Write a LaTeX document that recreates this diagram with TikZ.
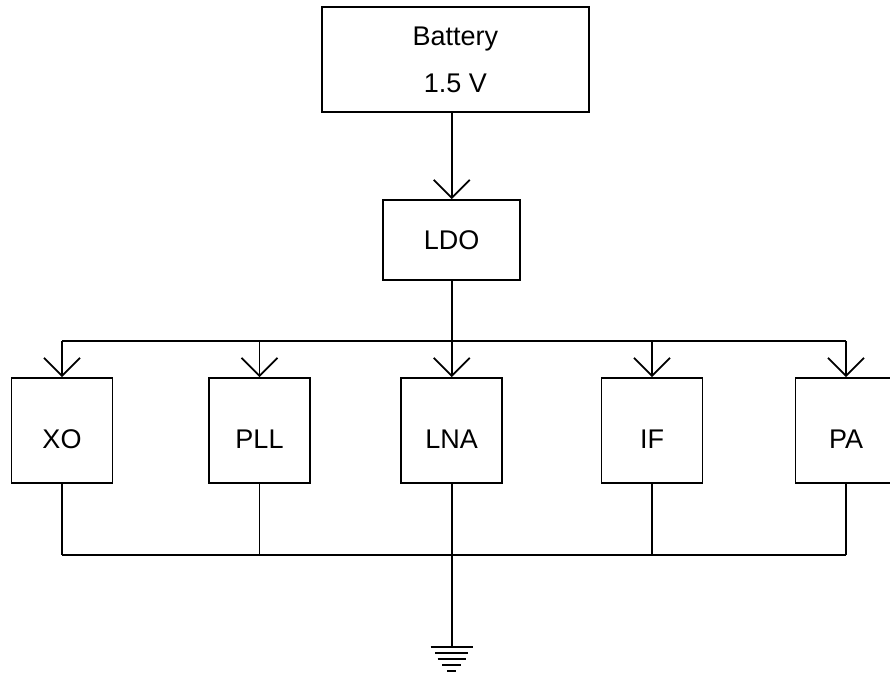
\documentclass[tikz,border=0pt]{standalone}
\usepackage{fontspec}
\setmainfont{Liberation Sans}
\usetikzlibrary{arrows.meta,positioning,calc}
\tikzset{
  fonte/.style={draw, line width=1.8pt, align=center, inner sep=0pt,
                font=\fontsize{27}{47}\selectfont},
  bloco/.style={draw, line width=1.8pt, inner sep=0pt, minimum width=101pt, minimum height=105pt,
                font=\fontsize{27}{32}\selectfont, text height=35pt, text depth=0pt},
  ligacao/.style={line width=1.8pt},
  seta/.style={-{Straight Barb[length=18pt,width=36pt]}, line width=1.8pt},
}
\begin{document}
\begin{tikzpicture}[x=1pt,y=-1pt]
  \useasboundingbox (0,0) rectangle (890,675);

  \node[fonte,minimum width=267pt,minimum height=105pt] (battery) at (455.3, 59.8) {Battery\\1.5 V};
  \node[fonte,minimum width=137pt,minimum height=80pt]  (ldo)     at (451.7, 240)  {LDO};

  \node[bloco] (xo)    at (62, 430.5)    {XO};
  \node[bloco] (pll)   at (259.5, 430.5) {PLL};
  \node[bloco] (lna)   at (451.7, 430.5) {LNA};
  \node[bloco] (ifamp) at (652, 430.5)   {IF};
  \node[bloco] (pa)    at (846, 430.5)   {PA};

  % supply rail and ground rail
  \coordinate (vdd)    at (451.7, 341);
  \coordinate (gndbus) at (451.7, 555);
  \coordinate (gnd)    at (451.7, 647);

  \draw[seta] (battery.south -| ldo.north) -- (ldo.north);
  \draw[ligacao] (ldo.south) -- (vdd);
  \draw[ligacao] (xo.north |- vdd) -- (pa.north |- vdd);
  \draw[ligacao] (xo.south |- gndbus) -- (pa.south |- gndbus);

  \foreach \b in {xo,pll,lna,ifamp,pa} {
    \draw[seta] (\b.north |- vdd) -- (\b.north);
    \draw[ligacao] (\b.south) -- (\b.south |- gndbus);
  }

  % ground symbol
  \draw[ligacao] (lna.south) -- (gnd);
  \foreach \i/\w in {0/42, 1/33, 2/28, 3/19, 4/9}
    \draw[ligacao] ([shift={(-\w/2, 6*\i)}]gnd) -- ([shift={(\w/2, 6*\i)}]gnd);

\end{tikzpicture}
\end{document}
